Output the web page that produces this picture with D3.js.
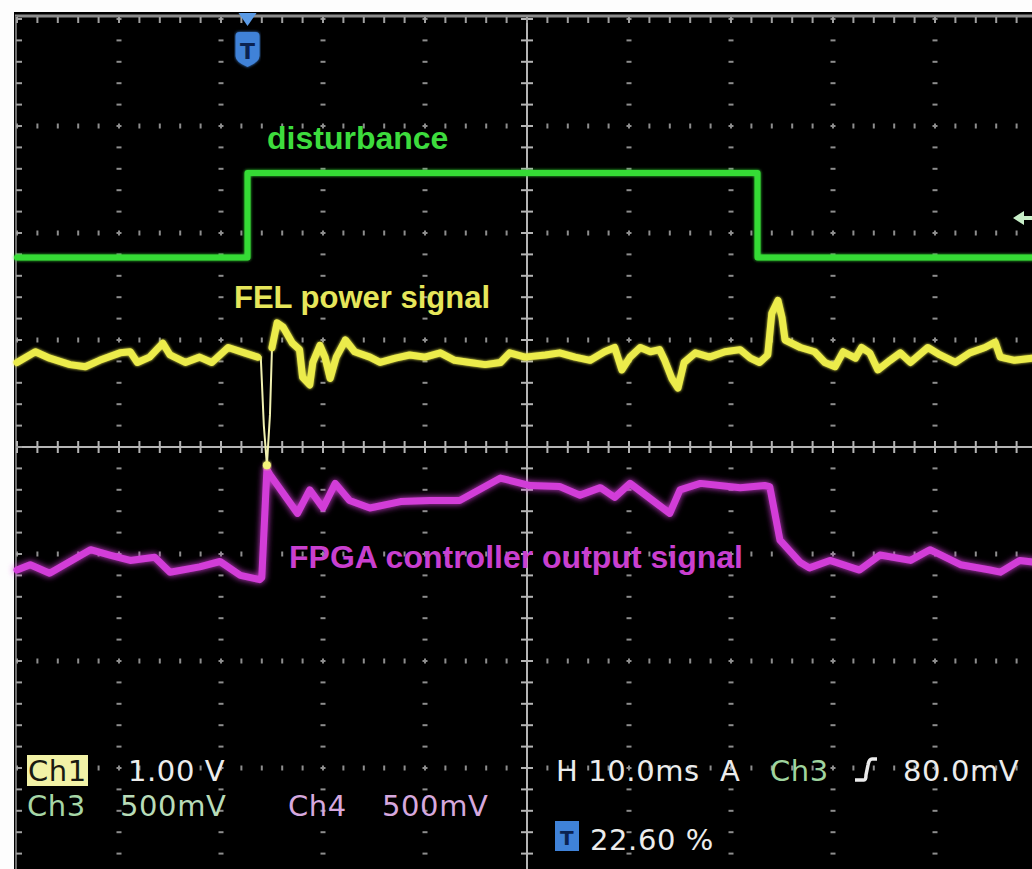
<!DOCTYPE html>
<html>
<head>
<meta charset="utf-8">
<script src="https://cdn.jsdelivr.net/npm/d3@7"></script>
<style>
  html, body { margin: 0; padding: 0; background: #fff; }
  svg { display: block; }
  .bot { font-family: "DejaVu Sans", sans-serif; font-size: 29px; letter-spacing: 0.6px; }
  .lbl { font-family: "Liberation Sans", Arial, sans-serif; font-weight: bold; }
</style>
</head>
<body>
<svg width="1032" height="869"></svg>
<script>
var svg = d3.select("svg"),
    width = +svg.attr("width"),
    height = +svg.attr("height");

// time in ms (trigger at 0, 22.60 % of the record), level in divisions from centre
var tMin = -22.6, tMax = 77.4;

// Ch3 - disturbance
var distT = [-22.6, 0, 0, 50, 50, 77.4];
var distV = [1.77, 1.77, 2.56, 2.56, 1.77, 1.77];

// Ch1 - FEL power signal
var felT = [-22.6, -20.8, -19.4, -17.4, -15.9, -14.5, -12.5, -11.5, -10.8, -9.6, -8.3, -7.6, -6.1, -4.7, -3.5, -1.9, -0.3, 1.0,
            1.3, 1.6, 1.9, 2.2, 2.4, 2.9, 3.5, 4.4, 5.1, 5.4, 6.1, 6.4, 7.1, 7.6, 8.1, 8.7, 9.6, 10.5, 12.0, 13.0, 14.5,
            15.9, 17.4, 18.9, 20.3, 21.8, 23.3, 24.8, 25.7, 27.2, 29.2, 30.6, 32.1, 33.6, 35.0, 36.0, 36.7, 37.5, 38.5,
            39.5, 40.4, 40.9, 41.6, 42.2, 42.8, 43.9, 45.3, 46.8, 48.3, 49.3, 50.2, 51.0, 51.4, 52.0, 52.4, 52.7, 54.2,
            55.6, 56.6, 57.6, 58.4, 59.6, 60.2, 61.0, 61.8, 63.0, 64.0, 65.0, 66.7, 67.9, 69.4, 70.8, 72.3, 73.3, 73.8,
            75.2, 76.9, 77.4];
var felV = [0.79, 0.89, 0.83, 0.77, 0.75, 0.81, 0.88, 0.89, 0.79, 0.84, 0.97, 0.86, 0.79, 0.84, 0.79, 0.93, 0.88, 0.84,
            0.84, 0.2, -0.17, 0.3, 0.93, 1.16, 1.12, 0.97, 0.91, 0.65, 0.58, 0.79, 0.95, 0.84, 0.64, 0.84, 1.0, 0.89, 0.84, 0.79, 0.83,
            0.86, 0.84, 0.88, 0.81, 0.79, 0.77, 0.79, 0.88, 0.84, 0.86, 0.88, 0.84, 0.81, 0.89, 0.93, 0.72, 0.84, 0.93,
            0.89, 0.91, 0.81, 0.64, 0.55, 0.79, 0.88, 0.84, 0.89, 0.91, 0.83, 0.79, 0.86, 1.25, 1.37, 1.21, 1.0, 0.93,
            0.89, 0.79, 0.75, 0.89, 0.83, 0.93, 0.88, 0.72, 0.81, 0.88, 0.79, 0.93, 0.86, 0.79, 0.88, 0.93, 0.98, 0.84,
            0.81, 0.83, 0.83];
// fast edges of Ch1 that show only as a faint thin line
var felFastFrom = 18, felFastTo = 22;

// Ch4 - FPGA controller output signal
var fpgaT = [-22.6, -21.3, -19.4, -15.4, -13.5, -11.5, -9.1, -7.6, -4.7, -2.7, -0.7, 1.2, 1.4, 1.9, 2.2, 4.9, 6.1, 7.4, 8.6,
             10.0, 12.0, 15.0, 17.9, 20.8, 24.8, 27.7, 30.6, 32.6, 34.6, 36.0, 37.5, 41.4, 42.4, 44.4, 48.3, 50.7, 51.2,
             52.2, 54.2, 55.1, 57.1, 60.0, 62.0, 65.0, 66.9, 69.9, 72.8, 73.8, 75.7, 77.4];
var fpgaV = [-1.15, -1.10, -1.18, -0.96, -1.01, -1.06, -1.03, -1.17, -1.12, -1.07, -1.20, -1.24, -1.22, -0.21, -0.26,
             -0.62, -0.40, -0.57, -0.34, -0.50, -0.57, -0.51, -0.50, -0.50, -0.29, -0.36, -0.37, -0.45, -0.38, -0.47, -0.34,
             -0.62, -0.40, -0.34, -0.38, -0.36, -0.37, -0.87, -1.08, -1.13, -1.06, -1.15, -1.01, -1.06, -0.96, -1.10, -1.15,
             -1.17, -1.06, -1.08];

var trigLevel = 2.14; // Ch3 trigger level marker

var x = d3.scaleLinear().domain([tMin, tMax]).range([17, 1037]);
var y = d3.scaleLinear().domain([-4, 4]).range([875, 19]);

var defs = svg.append("defs");
function glow(id, dev) {
    var f = defs.append("filter").attr("id", id)
        .attr("x", "-5%").attr("y", "-20%").attr("width", "110%").attr("height", "140%");
    f.append("feGaussianBlur").attr("in", "SourceGraphic").attr("stdDeviation", dev).attr("result", "b");
    var m = f.append("feMerge");
    m.append("feMergeNode").attr("in", "b");
    m.append("feMergeNode").attr("in", "SourceGraphic");
}
glow("glow", 3);
glow("soft", 1.5);

// screen
svg.append("rect").attr("x", 0).attr("y", 0).attr("width", width).attr("height", height).attr("fill", "#fdfdfd");
svg.append("rect").attr("x", 14).attr("y", 12).attr("width", width - 14).attr("height", height - 12).attr("fill", "#000");
svg.append("line").attr("x1", 15).attr("x2", width).attr("y1", 16).attr("y2", 16)
    .attr("stroke", "#8c8c8c").attr("stroke-width", 3);
svg.append("line").attr("x1", 16).attr("x2", 16).attr("y1", 16).attr("y2", height)
    .attr("stroke", "#6c6c6c").attr("stroke-width", 2);

// graticule
var grid = svg.append("g").attr("stroke-linecap", "butt");
var majorT = d3.range(0, 11).map(function(k) { return tMin + k * 10; });
var majorV = d3.range(-4, 5);
var minorT = d3.range(0, 51).map(function(k) { return tMin + k * 2; });
var minorV = d3.range(-20, 21).map(function(k) { return k * 0.2; });

// dotted vertical lines
majorT.forEach(function(t, k) {
    if (k == 0 || k == 5) return;
    grid.selectAll(null).data(minorV).enter().append("line")
        .attr("x1", x(t) - 2.5).attr("x2", x(t) + 2.5)
        .attr("y1", function(d) { return y(d); }).attr("y2", function(d) { return y(d); })
        .attr("stroke", "#8e8e8e").attr("stroke-width", 2);
});
// dotted horizontal lines
majorV.forEach(function(v) {
    if (v == 0 || v == 4 || v == -4) return;
    grid.selectAll(null).data(minorT).enter().append("line")
        .attr("x1", function(d) { return x(d); }).attr("x2", function(d) { return x(d); })
        .attr("y1", y(v) - 2.5).attr("y2", y(v) + 2.5)
        .attr("stroke", "#8e8e8e").attr("stroke-width", 2);
});
// centre lines with ticks
grid.append("line").attr("x1", 17).attr("x2", width).attr("y1", y(0)).attr("y2", y(0))
    .attr("stroke", "#b4b4b4").attr("stroke-width", 2);
grid.append("line").attr("x1", x(tMin + 50)).attr("x2", x(tMin + 50)).attr("y1", 17).attr("y2", height)
    .attr("stroke", "#b4b4b4").attr("stroke-width", 2);
grid.selectAll(null).data(minorT).enter().append("line")
    .attr("x1", function(d) { return x(d); }).attr("x2", function(d) { return x(d); })
    .attr("y1", y(0) - 6).attr("y2", y(0) + 6)
    .attr("stroke", "#b4b4b4").attr("stroke-width", 2);
grid.selectAll(null).data(minorV).enter().append("line")
    .attr("x1", x(tMin + 50) - 6).attr("x2", x(tMin + 50) + 6)
    .attr("y1", function(d) { return y(d); }).attr("y2", function(d) { return y(d); })
    .attr("stroke", "#b4b4b4").attr("stroke-width", 2);
// border ticks
grid.selectAll(null).data(minorT).enter().append("line")
    .attr("x1", function(d) { return x(d); }).attr("x2", function(d) { return x(d); })
    .attr("y1", 17).attr("y2", 23)
    .attr("stroke", "#a0a0a0").attr("stroke-width", 2);
grid.selectAll(null).data(minorV).enter().append("line")
    .attr("x1", 16).attr("x2", 22)
    .attr("y1", function(d) { return y(d); }).attr("y2", function(d) { return y(d); })
    .attr("stroke", "#a0a0a0").attr("stroke-width", 2);

// traces
var line = d3.line()
    .x(function(d) { return x(d[0]); })
    .y(function(d) { return y(d[1]); });

function trace(pts, color, w, filt) {
    svg.append("path")
        .datum(pts)
        .attr("d", line)
        .attr("fill", "none")
        .attr("stroke", color)
        .attr("stroke-width", w)
        .attr("stroke-linejoin", "round")
        .attr("stroke-linecap", "round")
        .attr("filter", filt ? "url(#" + filt + ")" : null);
}
var fel = d3.zip(felT, felV);
trace(d3.zip(fpgaT, fpgaV), "#d23ed8", 7, "glow");
trace(d3.zip(distT, distV), "#36dc36", 6, "soft");
trace(fel.slice(felFastFrom - 1, felFastTo + 1), "#f0f0b0", 2, null);
trace(fel.slice(0, felFastFrom), "#ecec4c", 7, "soft");
trace(fel.slice(felFastTo), "#ecec4c", 7, "soft");
// bright spot at the bottom of the fast dip
svg.append("circle").attr("cx", x(felT[felFastFrom + 2])).attr("cy", y(felV[felFastFrom + 2]))
    .attr("r", 4).attr("fill", "#f4f47a").attr("filter", "url(#soft)");

// trace labels
svg.append("text").attr("class", "lbl").attr("x", 267).attr("y", 149)
    .attr("font-size", 32).attr("fill", "#3ddc3d").text("disturbance");
svg.append("text").attr("class", "lbl").attr("x", 234).attr("y", 308)
    .attr("font-size", 31).attr("fill", "#e6e65a").text("FEL power signal");
svg.append("text").attr("class", "lbl").attr("x", 289).attr("y", 568)
    .attr("font-size", 32).attr("fill", "#c93fcf").text("FPGA controller output signal");

// trigger position marker
var tx = x(0);
svg.append("path")
    .attr("d", "M" + (tx - 9) + ",13 L" + (tx + 9) + ",13 L" + tx + ",26 Z")
    .attr("fill", "#5b9be6");
svg.append("path")
    .attr("d", "M" + (tx - 12) + ",36 Q" + (tx - 12) + ",32 " + (tx - 8) + ",32 L" + (tx + 8) + ",32 Q" + (tx + 12) + ",32 " + (tx + 12) + ",36" +
          " L" + (tx + 12) + ",56 Q" + (tx + 12) + ",62 " + tx + ",67 Q" + (tx - 12) + ",62 " + (tx - 12) + ",56 Z")
    .attr("fill", "#3f82d8").attr("filter", "url(#soft)");
svg.append("text").attr("x", tx).attr("y", 59).attr("text-anchor", "middle")
    .attr("font-family", "DejaVu Sans").attr("font-weight", "bold").attr("font-size", 22)
    .attr("fill", "#0b2250").text("T");

// trigger level arrow
var ty = y(trigLevel);
svg.append("path")
    .attr("d", "M1013," + ty + " L1024," + (ty - 7) + " L1024," + (ty - 2) + " L1032," + (ty - 2) +
          " L1032," + (ty + 2) + " L1024," + (ty + 2) + " L1024," + (ty + 7) + " Z")
    .attr("fill", "#c8efc8");

// readouts
var bot = svg.append("g").attr("class", "bot");
bot.append("rect").attr("x", 27).attr("y", 755).attr("width", 61).attr("height", 31).attr("fill", "#f2f2a6");
bot.append("text").attr("x", 28).attr("y", 781).attr("fill", "#1a1a10").text("Ch1");
bot.append("text").attr("x", 128).attr("y", 781).attr("fill", "#ececec").text("1.00 V");
bot.append("text").attr("x", 27).attr("y", 816).attr("fill", "#a6d6a6").text("Ch3");
bot.append("text").attr("x", 120).attr("y", 816).attr("fill", "#b8dcb8").text("500mV");
bot.append("text").attr("x", 288).attr("y", 816).attr("fill", "#d6a8de").text("Ch4");
bot.append("text").attr("x", 382).attr("y", 816).attr("fill", "#d6a8de").text("500mV");

bot.append("text").attr("x", 556).attr("y", 781).attr("fill", "#ececec").text("H 10.0ms");
bot.append("text").attr("x", 720).attr("y", 781).attr("fill", "#ececec").text("A");
bot.append("text").attr("x", 770).attr("y", 781).attr("fill", "#9fd49f").text("Ch3");
bot.append("path").attr("d", "M855,780 L864,780 Q866,780 866,775 L868,765 Q869,759 872,759 L877,759")
    .attr("fill", "none").attr("stroke", "#ececec").attr("stroke-width", 3.5);
bot.append("text").attr("x", 903).attr("y", 781).attr("fill", "#ececec").text("80.0mV");

bot.append("rect").attr("x", 555).attr("y", 821).attr("width", 24).attr("height", 30).attr("fill", "#3f82d8");
bot.append("text").attr("x", 567).attr("y", 845).attr("text-anchor", "middle")
    .attr("font-size", 20).attr("font-weight", "bold").attr("fill", "#0b2250").text("T");
bot.append("text").attr("x", 590).attr("y", 850).attr("fill", "#ececec").text("22.60 %");
</script>
</body>
</html>
